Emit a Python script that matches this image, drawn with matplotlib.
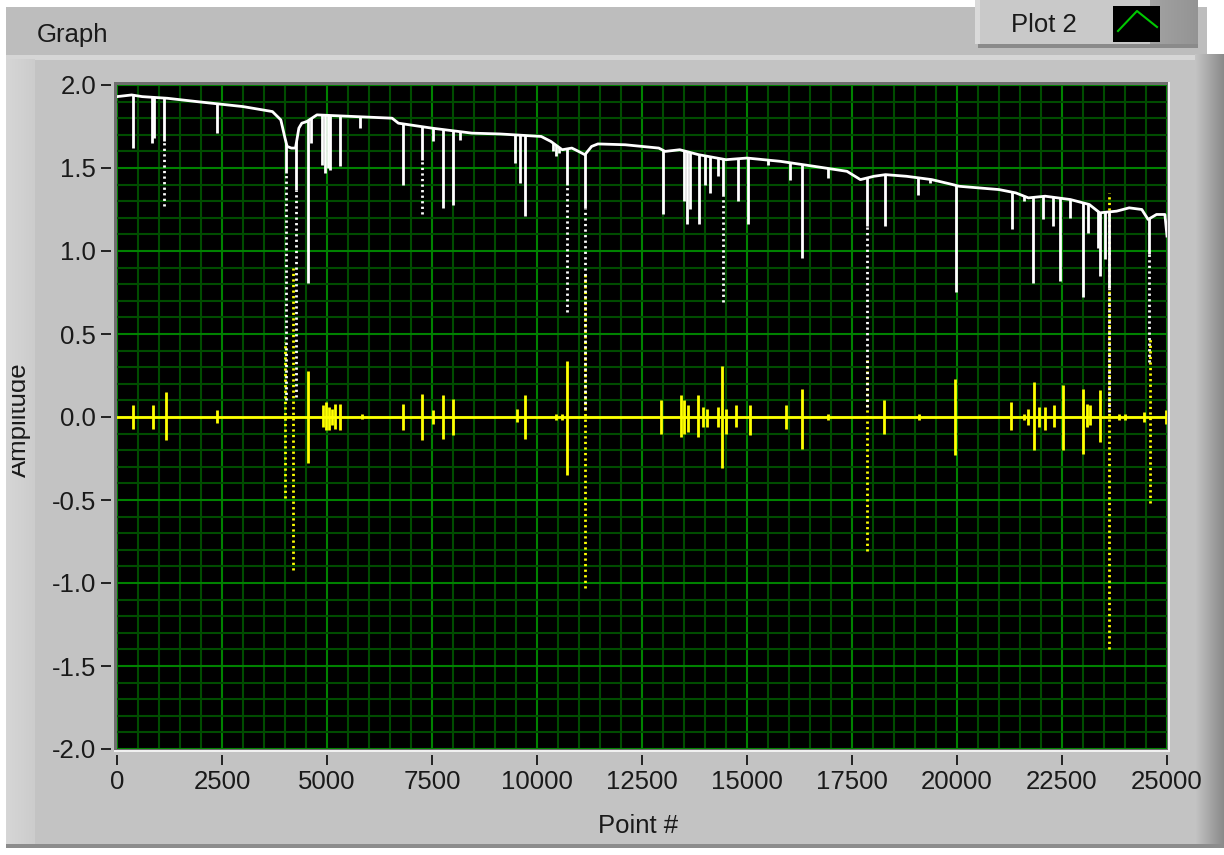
import numpy as np
import matplotlib.pyplot as plt
from matplotlib.patches import Rectangle, Polygon
from matplotlib.ticker import MultipleLocator, FormatStrFormatter
from matplotlib.transforms import Bbox

plt.rcParams['font.family'] = ['Liberation Sans', 'DejaVu Sans']
plt.rcParams['axes.unicode_minus'] = False

W, H = 1224, 855
FS = 18.5

# white trace: smooth continuum
cont_x = [0, 350, 600, 1200, 1900, 3000, 3700, 3900, 4000, 4050, 4150, 4250,
          4330, 4400, 4520, 4760, 6550, 6700, 7500, 8450, 9120, 10100, 10330,
          10600, 10830, 10990, 11140, 11300, 11450, 12100, 12900, 13050, 13400,
          13850, 14500, 15000, 15800, 16600, 17380, 17700, 18020, 18300, 18800,
          19400, 19900, 20050, 21000, 21400, 21700, 22100, 22700, 23150, 23400,
          23800, 24100, 24400, 24550, 24750, 24950, 25000]
cont_y = [1.93, 1.94, 1.93, 1.92, 1.90, 1.87, 1.84, 1.79, 1.68, 1.63, 1.62, 1.62,
          1.74, 1.77, 1.78, 1.82, 1.80, 1.77, 1.74, 1.71, 1.705, 1.69, 1.66,
          1.61, 1.62, 1.60, 1.58, 1.63, 1.645, 1.64, 1.62, 1.60, 1.61,
          1.58, 1.55, 1.56, 1.54, 1.51, 1.48, 1.43, 1.45, 1.46, 1.45,
          1.43, 1.40, 1.39, 1.37, 1.35, 1.32, 1.33, 1.31, 1.28, 1.23,
          1.24, 1.26, 1.25, 1.19, 1.22, 1.22, 1.09]

# white trace: narrow absorption lines (position, lowest value)
line_x = [389, 825, 880, 2373, 4550, 4630, 4880, 4960, 5020, 5070, 5310, 5786,
          6810, 7524, 7770, 8000, 8170, 9476, 9600, 9714, 10380, 10450, 10520,
          13000, 13500, 13570, 13650, 13860, 14000, 14120, 14300, 14790, 15030,
          15500, 16020, 16310, 16930, 18290, 19070, 19360, 19980, 21300, 21600,
          21810, 22050, 22290, 22450, 22700, 23000, 23120, 23360, 23400, 23520]
line_lo = [1.62, 1.65, 1.68, 1.71, 0.81, 1.65, 1.52, 1.47, 1.50, 1.49, 1.51, 1.74,
           1.40, 1.66, 1.26, 1.28, 1.67, 1.53, 1.41, 1.21, 1.60, 1.57, 1.59,
           1.22, 1.30, 1.16, 1.25, 1.16, 1.40, 1.35, 1.45, 1.30, 1.16,
           1.52, 1.43, 0.96, 1.44, 1.15, 1.34, 1.41, 0.75, 1.13, 1.30,
           0.81, 1.19, 1.15, 0.82, 1.20, 0.72, 1.11, 1.02, 0.85, 0.95]

# white trace: deep lines (position, end of solid stroke, lowest value)
deep_x = [1120, 4030, 4250, 7254, 10710, 11140, 14430, 17860, 23620, 24560]
deep_solid = [1.66, 1.47, 1.37, 1.55, 1.40, 1.26, 1.33, 1.15, 0.78, 0.98]
deep_lo = [1.27, 0.10, 0.12, 1.22, 0.63, 0.05, 0.69, 0.06, 0.03, 0.33]

# yellow trace: short spikes (position, top, bottom)
spike_x = [389, 860, 1160, 2370, 4550, 4900, 4980, 5050, 5120, 5200, 5300, 5830,
           6810, 7260, 7530, 7770, 8000, 9520, 9714, 10450, 10600, 10710,
           12960, 13420, 13500, 13600, 13830, 13950, 14050, 14300, 14400, 14500,
           14740, 15060, 15930, 16300, 16920, 18270, 19090, 19950, 21290, 21600,
           21700, 21840, 21950, 22100, 22300, 22530, 22990, 23100, 23170, 23400,
           23850, 24000, 24450, 24980]
spike_hi = [0.07, 0.07, 0.15, 0.04, 0.28, 0.07, 0.09, 0.06, 0.05, 0.08, 0.08, 0.02,
            0.08, 0.14, 0.04, 0.13, 0.11, 0.05, 0.13, 0.02, 0.02, 0.34,
            0.10, 0.13, 0.10, 0.07, 0.13, 0.06, 0.05, 0.06, 0.31, 0.05,
            0.07, 0.07, 0.07, 0.17, 0.02, 0.10, 0.02, 0.23, 0.09, 0.02,
            0.05, 0.21, 0.06, 0.06, 0.07, 0.19, 0.17, 0.08, 0.07, 0.16,
            0.02, 0.02, 0.03, 0.04]
spike_lo = [-0.07, -0.07, -0.14, -0.035, -0.28, -0.06, -0.08, -0.08, -0.05, -0.07, -0.08, -0.01,
            -0.08, -0.14, -0.04, -0.13, -0.11, -0.03, -0.13, -0.02, -0.02, -0.35,
            -0.10, -0.12, -0.10, -0.09, -0.12, -0.06, -0.06, -0.06, -0.31, -0.10,
            -0.06, -0.11, -0.07, -0.19, -0.02, -0.10, -0.02, -0.23, -0.08, -0.02,
            -0.05, -0.20, -0.06, -0.08, -0.06, -0.20, -0.22, -0.06, -0.05, -0.15,
            -0.02, -0.02, -0.03, -0.04]

# yellow trace: wide swings at the deep lines
swing_x = [4000, 4190, 11140, 17860, 23630, 24590]
swing_hi = [0.45, 0.90, 0.87, 0.35, 1.35, 0.48]
swing_lo = [-0.49, -0.92, -1.03, -0.81, -1.40, -0.52]

x_ticks = np.arange(0, 25001, 2500)
y_ticks = np.arange(-2.0, 2.01, 0.5)

fig = plt.figure(figsize=(W / 100, H / 100), dpi=100)
fig.patch.set_facecolor('white')

# panel chrome drawn in pixel coordinates
bg = fig.add_axes([0, 0, 1, 1], zorder=-10)
bg.axis('off')


def grad(x0, x1, y0, y1, c0, c1, z=0):
    v = np.linspace(c0, c1, 64)[None, :]
    bg.imshow(np.dstack([v, v, v]), extent=(x0, x1, y1, y0), aspect='auto',
              interpolation='bilinear', zorder=z)


def box(x, y, w, h, c, z=1):
    bg.add_patch(Rectangle((x, y), w, h, color=c, lw=0, zorder=z))


box(6, 7, 1201, 48, '#bdbdbd')
box(6, 55, 1218, 792, '#c3c3c3')
box(6, 55, 1218, 5, '#d6d6d6')
grad(6, 35, 60, 847, 0.84, 0.80, z=2)
grad(1195, 1224, 55, 847, 0.77, 0.54, z=2)
box(6, 844, 1218, 4, '#8c8c8c', z=3)

# legend box
grad(975, 1198, 0, 44, 0.86, 0.58, z=4)
box(975, 0, 175, 44, '#c9c9c9', z=5)
box(975, 0, 5, 44, '#dadada', z=5)
box(978, 44, 220, 4, '#8a8a8a', z=5)
box(1113, 6, 47, 36, 'black', z=6)
bg.plot([1118, 1137, 1157], [31, 11, 27], color='#00c800', lw=1.5, zorder=7)
bg.text(1011, 32, 'Plot 2', fontsize=FS, va='baseline', color='#1a1a1a', zorder=7)

# inset frame round the plot area
box(114, 82, 1056, 670, '#f0f0f0', z=3)
box(114, 82, 1054, 668, '#6e6e6e', z=3)

bg.text(37, 42, 'Graph', fontsize=FS, va='baseline', color='#1a1a1a', zorder=7)
bg.text(638, 833, 'Point #', fontsize=FS, ha='center', va='baseline',
        color='#1a1a1a', zorder=7)
ylab = bg.text(19, 420, 'Amplitude', fontsize=FS, rotation=90, ha='center',
               va='center', color='#1a1a1a', clip_on=True, zorder=7)
ylab.set_clip_box(Bbox.from_extents(12, 0, W, H))
bg.set_xlim(0, W)
bg.set_ylim(H, 0)

ax = fig.add_axes([117 / W, 1 - 749 / H, 1050 / W, 664 / H])
ax.set_facecolor('black')
ax.set_xlim(0, 25000)
ax.set_ylim(-2, 2)
ax.set_xticks(x_ticks)
ax.set_yticks(y_ticks)
ax.xaxis.set_minor_locator(MultipleLocator(500))
ax.yaxis.set_minor_locator(MultipleLocator(0.1))
ax.yaxis.set_major_formatter(FormatStrFormatter('%.1f'))
ax.set_axisbelow(True)
ax.grid(which='minor', color='#004c00', lw=1.5)
ax.grid(which='major', color='#008200', lw=1.5)
for s in ax.spines.values():
    s.set_visible(False)
ax.spines['bottom'].set_position(('outward', 4.3))
ax.spines['left'].set_position(('outward', 4.3))
ax.tick_params(which='major', direction='out', length=7.2, width=1.4,
               color='#222222', labelsize=FS, labelcolor='#1a1a1a')
ax.tick_params(axis='x', pad=3.5)
ax.tick_params(axis='y', pad=3.5)
ax.tick_params(which='minor', length=0)

# yellow trace
yel = '#ffff00'
lw = 2.0
dots = (0, (0.8, 1.2))
ax.axhline(0, color=yel, lw=lw, zorder=3)
ax.vlines(spike_x, spike_lo, spike_hi, colors=yel, lw=lw, zorder=3)
ax.vlines(swing_x, swing_lo, swing_hi, colors=yel, lw=lw, linestyles=dots, zorder=3)

# white trace, lines clipped to the area under the continuum
under = Polygon(np.column_stack([cont_x + [25000, 0], cont_y + [-2.5, -2.5]]),
                closed=True, transform=ax.transData)
lines = ax.vlines(line_x, line_lo, 2.0, colors='white', lw=lw, zorder=4)
lines.set_clip_path(under)
deep = ax.vlines(deep_x, deep_solid, 2.0, colors='white', lw=lw, zorder=4)
deep.set_clip_path(under)
ax.vlines(deep_x, deep_lo, deep_solid, colors='white', lw=lw, linestyles=dots, zorder=4)
ax.plot(cont_x, cont_y, color='white', lw=lw, zorder=4)

fig.savefig('out.png', dpi=100)
